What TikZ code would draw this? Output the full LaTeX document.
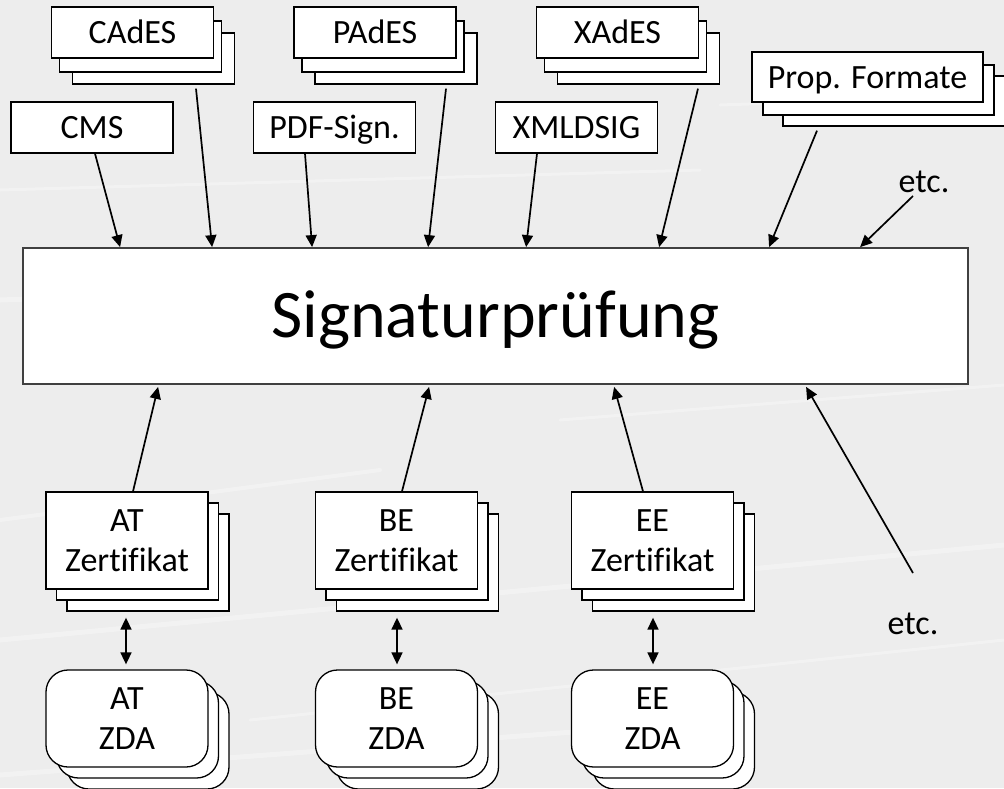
\documentclass[tikz,border=0pt]{standalone}
\usepackage{fontspec}
\setmainfont[Ligatures={TeX,NoCommon}]{Carlito}
\usetikzlibrary{arrows.meta,shadows}

\definecolor{bgcol}{RGB}{237,237,237}
\definecolor{mainframe}{RGB}{64,64,64}

\begin{document}
\begin{tikzpicture}[x=1pt,y=-1pt,
  txt/.style={inner sep=0pt,align=center,font=\fontsize{34}{40}\selectfont,
    text height=22pt,text depth=0pt},
  twolines/.style={text height=62pt},
  box/.style={txt,draw=black,fill=white,line width=1.3pt},
  single/.style={box,minimum width=162pt,minimum height=51pt},
  topstack/.style={single,
    copy shadow={shadow xshift=21pt,shadow yshift=-26pt},
    copy shadow={shadow xshift=8pt,shadow yshift=-14pt}},
  propstack/.style={box,minimum width=231pt,minimum height=50pt,
    copy shadow={shadow xshift=31pt,shadow yshift=-24pt},
    copy shadow={shadow xshift=11pt,shadow yshift=-13pt}},
  certstack/.style={box,twolines,minimum width=162pt,minimum height=97pt,
    copy shadow={shadow xshift=21pt,shadow yshift=-22pt},
    copy shadow={shadow xshift=10.5pt,shadow yshift=-11pt}},
  zdastack/.style={certstack,rounded corners=22pt},
  tip/.tip={Triangle[length=12pt,width=11pt]},
  arr/.style={line width=1.7pt,-tip},
  dbl/.style={line width=1.7pt,tip-tip},
  streak/.style={white,opacity=0.3,line cap=round},
]
\useasboundingbox (0,0) rectangle (1004,788);

% backdrop
\fill[bgcol] (0,0) rectangle (1004,788);
\draw[streak,line width=5pt] (0,300) -- (420,285);
\draw[streak,line width=3pt] (560,420) -- (1004,385);
\draw[streak,line width=4pt] (0,520) -- (380,470);
\draw[streak,line width=5pt] (0,640) -- (1004,545);
\draw[streak,line width=3pt] (250,720) -- (1004,640);
\draw[streak,line width=5pt] (0,775) -- (600,730);
\draw[streak,line width=3pt] (0,190) -- (700,170);
\draw[streak,line width=3pt] (720,105) -- (1004,95);

% signature formats
\node[topstack] (cades) at (132.5,32.5) {CAdES};
\node[topstack] (pades) at (375,32.5) {PAdES};
\node[topstack] (xades) at (617.5,32.5) {XAdES};
\node[single] (cms) at (92,127.5) {CMS};
\node[single] (pdfs) at (334.5,127.5) {PDF-Sign.};
\node[single] (xmld) at (576.5,127.5) {XMLDSIG};
\node[propstack] (prop) at (867.5,77) {Prop. Formate};
\node[txt] (etc1) at (924,181.5) {etc.};

% central verification block
\node[draw=mainframe,fill=white,line width=1.8pt,inner sep=0pt,
  minimum width=945pt,minimum height=136pt,
  font=\fontsize{68}{72}\selectfont,text height=43pt,text depth=0pt]
  (main) at (495.5,316) {Signaturprüfung};

% certificates and trust service providers
\node[certstack] (atz) at (127,540.5) {AT\\Zertifikat};
\node[certstack] (bez) at (396.5,540.5) {BE\\Zertifikat};
\node[certstack] (eez) at (652.5,540.5) {EE\\Zertifikat};
\node[zdastack] (atd) at (127,718.5) {AT\\ZDA};
\node[zdastack] (bed) at (396.5,718.5) {BE\\ZDA};
\node[zdastack] (eed) at (652.5,718.5) {EE\\ZDA};
\node[txt] (etc2) at (913,623) {etc.};

% inputs from above
\draw[arr] ([shift={(3,0)}]cms.south) -- ([shift={(98,0)}]main.north west);
\draw[arr] ([shift={(63.5,30)}]cades.south) -- ([shift={(190,0)}]main.north west);
\draw[arr] ([shift={(-29.5,0)}]pdfs.south) -- ([shift={(290,0)}]main.north west);
\draw[arr] ([shift={(71,30)}]pades.south) -- ([shift={(406,0)}]main.north west);
\draw[arr] ([shift={(-39.5,0)}]xmld.south) -- ([shift={(504,0)}]main.north west);
\draw[arr] ([shift={(80.5,30)}]xades.south) -- ([shift={(637,0)}]main.north west);
\draw[arr] ([shift={(-50.5,28)}]prop.south) -- ([shift={(747,0)}]main.north west);
\draw[arr] ([shift={(-11,14.5)}]etc1.center) -- ([shift={(838,0)}]main.north west);

% inputs from below
\draw[arr] ([shift={(6,0)}]atz.north) -- ([shift={(136,2)}]main.south west);
\draw[arr] ([shift={(5.5,0)}]bez.north) -- ([shift={(407,2)}]main.south west);
\draw[arr] ([shift={(-9.5,0)}]eez.north) -- ([shift={(592,2)}]main.south west);
\draw[arr] ([shift={(0,-50)}]etc2.center) -- ([shift={(784,2)}]main.south west);

% certificate <-> provider
\draw[dbl] ([shift={(-1,28)}]atz.south) -- ([shift={(-1,-5)}]atd.north);
\draw[dbl] ([shift={(0.5,28)}]bez.south) -- ([shift={(0.5,-5)}]bed.north);
\draw[dbl] ([shift={(0.5,28)}]eez.south) -- ([shift={(0.5,-5)}]eed.north);
\end{tikzpicture}
\end{document}
